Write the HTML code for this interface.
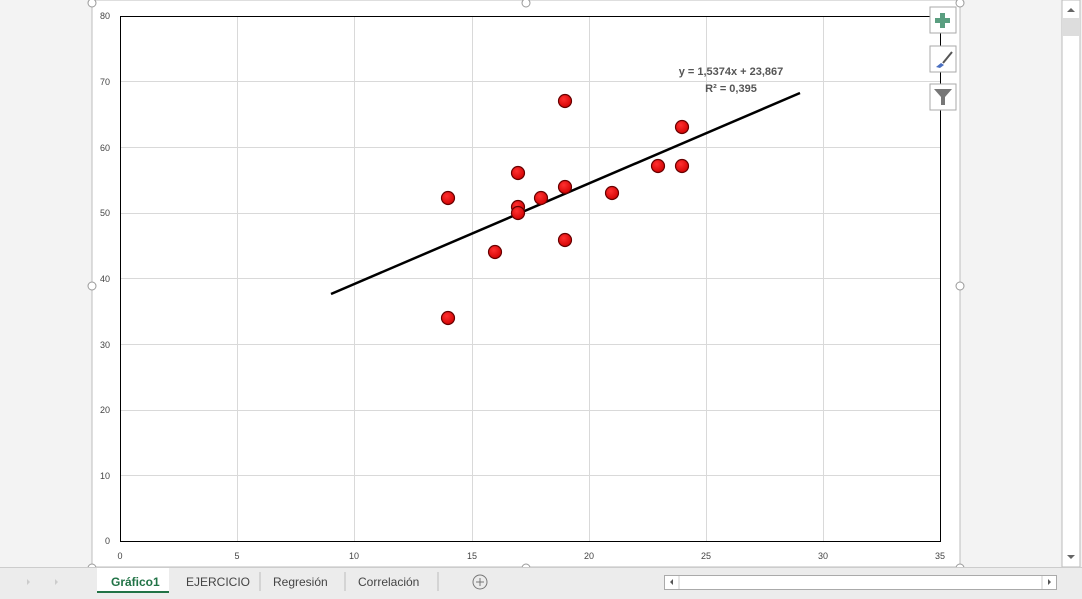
<!DOCTYPE html>
<html><head><meta charset="utf-8"><style>
html,body{margin:0;padding:0;width:1082px;height:599px;overflow:hidden;background:#f3f3f3;font-family:"Liberation Sans",sans-serif}
</style></head><body>
<svg width="1082" height="599" xmlns="http://www.w3.org/2000/svg" font-family="Liberation Sans, sans-serif">
<rect x="0" y="0" width="1082" height="599" fill="#f3f3f3"/>
<rect x="92" y="0" width="868" height="567" fill="#fff" stroke="#bdbdbd"/>
<g stroke="#d9d9d9" stroke-width="1">
<line x1="120" y1="475.5" x2="941" y2="475.5"/><line x1="120" y1="410.5" x2="941" y2="410.5"/>
<line x1="120" y1="344.5" x2="941" y2="344.5"/><line x1="120" y1="278.5" x2="941" y2="278.5"/>
<line x1="120" y1="213.5" x2="941" y2="213.5"/><line x1="120" y1="147.5" x2="941" y2="147.5"/>
<line x1="120" y1="81.5" x2="941" y2="81.5"/>
<line x1="237.5" y1="16" x2="237.5" y2="541"/><line x1="354.5" y1="16" x2="354.5" y2="541"/>
<line x1="472.5" y1="16" x2="472.5" y2="541"/><line x1="589.5" y1="16" x2="589.5" y2="541"/>
<line x1="706.5" y1="16" x2="706.5" y2="541"/><line x1="823.5" y1="16" x2="823.5" y2="541"/>
</g>
<rect x="120.5" y="16.5" width="820" height="525" fill="none" stroke="#000"/>
<g font-size="9" fill="#444" text-anchor="end">
<text x="110" y="544">0</text><text x="110" y="479">10</text><text x="110" y="413">20</text><text x="110" y="348">30</text>
<text x="110" y="282">40</text><text x="110" y="216">50</text><text x="110" y="151">60</text><text x="110" y="85">70</text><text x="110" y="19">80</text>
</g>
<g font-size="9" fill="#444" text-anchor="middle">
<text x="120" y="559">0</text><text x="237" y="559">5</text><text x="354" y="559">10</text><text x="472" y="559">15</text>
<text x="589" y="559">20</text><text x="706" y="559">25</text><text x="823" y="559">30</text><text x="940" y="559">35</text>
</g>
<line x1="331" y1="294" x2="800" y2="93" stroke="#000" stroke-width="2.5"/>
<defs><radialGradient id="g" cx="0.4" cy="0.35" r="0.7"><stop offset="0" stop-color="#ff3030"/><stop offset="1" stop-color="#d00000"/></radialGradient></defs>
<g fill="url(#g)" stroke="#600" stroke-width="1.2">
<circle cx="448" cy="198" r="6.5"/><circle cx="448" cy="318" r="6.5"/><circle cx="495" cy="252" r="6.5"/>
<circle cx="518" cy="173" r="6.5"/><circle cx="518" cy="207" r="6.5"/><circle cx="518" cy="213" r="6.5"/>
<circle cx="541" cy="198" r="6.5"/><circle cx="565" cy="101" r="6.5"/><circle cx="565" cy="187" r="6.5"/>
<circle cx="565" cy="240" r="6.5"/><circle cx="612" cy="193" r="6.5"/><circle cx="658" cy="166" r="6.5"/>
<circle cx="682" cy="127" r="6.5"/><circle cx="682" cy="166" r="6.5"/>
</g>
<g font-size="11" font-weight="bold" fill="#555" text-anchor="middle">
<text x="731" y="75">y = 1,5374x + 23,867</text><text x="731" y="92">R² = 0,395</text>
</g>
<g fill="#fff" stroke="#999">
<circle cx="92" cy="3" r="4"/><circle cx="526" cy="3" r="4"/><circle cx="960" cy="3" r="4"/>
<circle cx="92" cy="286" r="4"/><circle cx="960" cy="286" r="4"/>
<circle cx="92" cy="568" r="4"/><circle cx="526" cy="568" r="4"/><circle cx="960" cy="568" r="4"/>
</g>
<g fill="#fff" stroke="#aaa"><rect x="930" y="7" width="26" height="26"/><rect x="930" y="46" width="26" height="26"/><rect x="930" y="84" width="26" height="26"/></g>
<path d="M940 13h5v5h5v5h-5v5h-5v-5h-5v-5h5z" fill="#5a9e80"/>
<path d="M936 67l5-4 3 2-4 3z" fill="#4a6fc0"/><line x1="943" y1="63" x2="952" y2="52" stroke="#555" stroke-width="2"/>
<path d="M934 89h18l-7 8v8h-4v-8z" fill="#777"/>
<rect x="1062" y="0" width="18" height="567" fill="#fff" stroke="#bbb"/>
<rect x="1063" y="18" width="16" height="18" fill="#ddd"/>
<path d="M1067 12l4-4 4 4z" fill="#666"/><path d="M1067 555l4 4 4-4z" fill="#666"/>
<rect x="0" y="567" width="1082" height="32" fill="#ececec"/>
<line x1="0" y1="567.5" x2="1082" y2="567.5" stroke="#ccc"/>
<rect x="97" y="568" width="72" height="25" fill="#fff"/>
<line x1="97" y1="592" x2="169" y2="592" stroke="#217346" stroke-width="2"/>
<g font-size="12" fill="#444">
<text x="111" y="586" font-weight="bold" fill="#217346">Gráfico1</text>
<text x="186" y="586">EJERCICIO</text><text x="273" y="586">Regresión</text><text x="358" y="586">Correlación</text>
</g>
<g stroke="#bbb"><line x1="260" y1="572" x2="260" y2="591"/><line x1="345" y1="572" x2="345" y2="591"/><line x1="438" y1="572" x2="438" y2="591"/></g>
<circle cx="480" cy="582" r="7" fill="none" stroke="#777"/><path d="M476 582h8M480 578v8" stroke="#777"/>
<path d="M30 582l-3-3v6zM55 579v6l3-3z" fill="#ccc"/>
<rect x="664.5" y="575.5" width="392" height="14" fill="#fff" stroke="#aaa"/>
<line x1="679" y1="576" x2="679" y2="589" stroke="#ccc"/><line x1="1042" y1="576" x2="1042" y2="589" stroke="#ccc"/>
<path d="M673 579v6l-3-3zM1048 579v6l3-3z" fill="#555"/>
</svg>
</body></html>
